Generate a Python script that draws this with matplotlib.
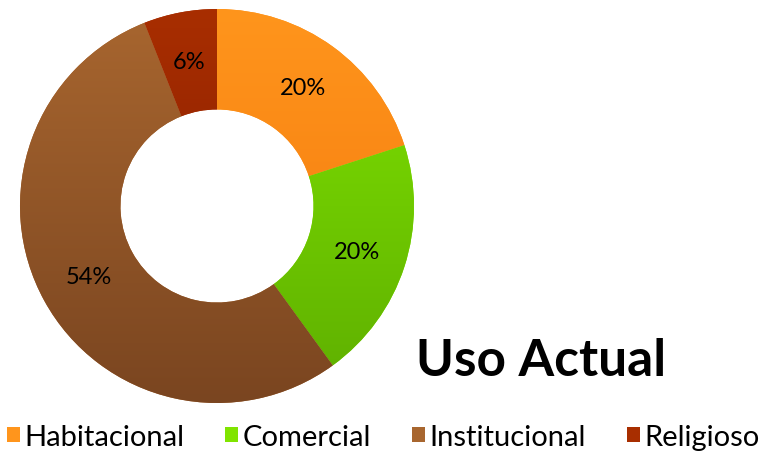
import matplotlib.pyplot as plt
import numpy as np
from matplotlib.colors import LinearSegmentedColormap

# Land-use share (percent)
categories = ["Habitacional", "Comercial", "Institucional", "Religioso"]
shares = [20, 20, 54, 6]
title = "Uso Actual"

# (top colour, bottom colour) for each slice's vertical gradient
shades = [
    ("#FF951C", "#F2760C"),
    ("#80E400", "#5EAE00"),
    ("#A8662F", "#7A4520"),
    ("#A82E00", "#7E1800"),
]

W, H = 765, 456
fig = plt.figure(figsize=(W / 100, H / 100), dpi=100)
ax = fig.add_axes([0, 0, 1, 1])

cx, cy, r_out = 217, 249, 197
ring = 0.51

wedges, texts = ax.pie(
    shares,
    center=(cx, cy),
    radius=r_out,
    startangle=90,
    counterclock=False,
    wedgeprops=dict(width=r_out * ring, linewidth=0),
    frame=True,
)
ax.set_xlim(0, W)
ax.set_ylim(0, H)
ax.set_aspect("equal")
ax.axis("off")

# Fill each wedge with a top-to-bottom gradient clipped to its shape
grad = np.linspace(0, 1, 256).reshape(-1, 1)
extent = (cx - r_out, cx + r_out, cy - r_out, cy + r_out)
for w, (top, bottom) in zip(wedges, shades):
    w.set_facecolor(top)
    cmap = LinearSegmentedColormap.from_list("g", [top, bottom])
    im = ax.imshow(grad, cmap=cmap, extent=extent, origin="upper",
                   aspect="auto", zorder=w.get_zorder() + 0.1,
                   interpolation="bilinear")
    im.set_clip_path(w)

# Percent labels at the middle of the ring
label_r = r_out * (1 - ring / 2)
for w, v in zip(wedges, shares):
    mid = np.deg2rad((w.theta1 + w.theta2) / 2)
    ax.text(cx + label_r * np.cos(mid), cy + label_r * np.sin(mid),
            f"{v}%", ha="center", va="center", fontsize=17,
            family="Lato", color="black", zorder=5)

ax.text(416, 456 - 362, title, ha="left", va="center", fontsize=37,
        fontweight="bold", family="Lato", color="black")

handles = [plt.Rectangle((0, 0), 1, 1, facecolor=t) for t, _ in shades]
fig.legend(handles, categories, loc="center left",
           bbox_to_anchor=(7 / W, 18 / H), ncol=4, frameon=False,
           handlelength=0.45, handleheight=0.45, handletextpad=0.15,
           columnspacing=1.4, borderpad=0, borderaxespad=0,
           prop=dict(family="Lato", size=21))

fig.savefig("out.png", dpi=100, facecolor="white")
